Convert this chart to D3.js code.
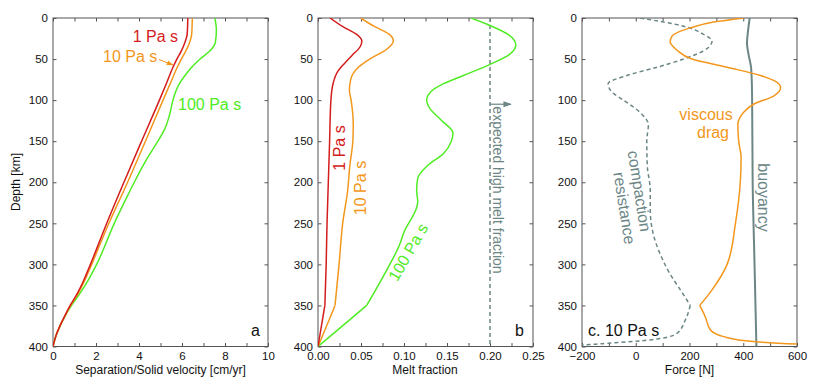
<!doctype html>
<html>
<head>
<meta charset="utf-8">
<script src="https://d3js.org/d3.v7.min.js"></script>
<style>
  body { margin: 0; background: #fff; }
  svg text { font-family: "Liberation Sans", Arial, Helvetica, sans-serif; }
</style>
</head>
<body>
<svg id="chart" width="830" height="391"></svg>
<script>
// ---------- data ----------
// depth ticks shared by all panels
var depthTicks = [0, 50, 100, 150, 200, 250, 300, 350, 400];

// panel a : separation / solid velocity [cm/yr]
var aDepth     = [0, 20, 30, 40, 50, 60, 80, 100, 150, 200, 250, 300, 320, 335, 350, 362, 374, 386, 400];
var aVel1      = [6.27, 6.24, 6.13, 5.97, 5.76, 5.58, 5.27, 4.95, 4.12, 3.30, 2.50, 1.74, 1.42, 1.14, 0.80, 0.56, 0.34, 0.15, 0];
var aVel10     = [6.48, 6.45, 6.35, 6.18, 5.97, 5.78, 5.45, 5.12, 4.30, 3.47, 2.60, 1.80, 1.47, 1.18, 0.82, 0.57, 0.34, 0.15, 0];
var aDepth100  = [0, 15, 30, 40, 50, 60, 70, 80, 90, 100, 120, 135, 150, 170, 200, 220, 250, 300, 320, 335, 350, 362, 374, 386, 400];
var aVel100    = [7.53, 7.60, 7.55, 7.30, 6.84, 6.45, 6.14, 5.88, 5.70, 5.58, 5.40, 5.20, 4.88, 4.40, 3.78, 3.40, 2.85, 2.03, 1.62, 1.26, 0.86, 0.58, 0.35, 0.15, 0];

// panel b : melt fraction
var bDepth1    = [0, 10, 20, 28, 35, 45, 55, 65, 80, 100, 150, 200, 250, 300, 350, 400];
var bMelt1     = [0.014, 0.028, 0.045, 0.051, 0.049, 0.040, 0.031, 0.023, 0.0175, 0.015, 0.0135, 0.012, 0.0105, 0.0095, 0.008, 0];
var bDepth10   = [0, 10, 20, 28, 38, 50, 60, 75, 88, 100, 130, 150, 180, 210, 250, 300, 350, 375, 400];
var bMelt10    = [0.0497, 0.065, 0.083, 0.0876, 0.080, 0.060, 0.047, 0.038, 0.0365, 0.0385, 0.041, 0.0405, 0.037, 0.0345, 0.0287, 0.0245, 0.0198, 0.010, 0];
var bDepth100  = [0, 10, 20, 33, 45, 57, 70, 80, 90, 100, 110, 125, 140, 150, 165, 180, 195, 210, 224, 262, 275, 307, 350, 371, 400];
var bMelt100   = [0.178, 0.202, 0.221, 0.230, 0.222, 0.199, 0.169, 0.146, 0.131, 0.1264, 0.130, 0.144, 0.157, 0.155, 0.146, 0.127, 0.116, 0.1147, 0.116, 0.0995, 0.0953, 0.0799, 0.0566, 0.033, 0];
var highMelt   = 0.20;

// panel c : forces for 10 Pa s [N]
var cDepthDrag = [0, 5, 12, 22, 29, 39, 50, 60, 70, 80, 85, 95, 105, 115, 130, 150, 170, 200, 250, 300, 331, 350, 364, 380, 388, 394, 397, 399];
var cDrag      = [402, 290, 203, 135, 128, 153, 209, 340, 464, 532, 539, 513, 438, 401, 380, 383, 392, 389, 371, 340, 284, 238, 259, 278, 327, 438, 601, 800];
var cDepthComp = [0, 10, 20, 28, 40, 50, 60, 70, 80, 90, 100, 115, 130, 150, 180, 210, 234, 271, 292, 312, 331, 350, 368, 384, 392, 396, 398, 399];
var cComp      = [16, 178, 253, 284, 252, 178, 79, -33, -103, -89, -46, 16, 47, 41, 43, 54, 54, 72, 97, 128, 166, 203, 184, 153, 54, -108, -200, -400];
var cDepthBuoy = [0, 15, 30, 45, 60, 80, 100, 200, 300, 400];
var cBuoy      = [424, 418, 414, 420, 429, 432, 433, 435, 442, 449];

// ---------- drawing ----------
var FONT = '"Liberation Sans", Arial, Helvetica, sans-serif';
var RED = "#d41c1c", ORANGE = "#f2971c", GREEN = "#4fec23", GRAY = "#6c8686";

var svg = d3.select("#chart");
var top0 = 18, bot0 = 346.5, pw = 215;
var y = d3.scaleLinear().domain([0, 400]).range([top0, bot0]);

var xa = d3.scaleLinear().domain([0, 10]).range([53, 53 + pw]);
var xb = d3.scaleLinear().domain([0, 0.25]).range([318, 318 + pw]);
var xc = d3.scaleLinear().domain([-200, 600]).range([582, 582 + pw]);

var defs = svg.append("defs");
function arrowMarker(id, color) {
  defs.append("marker").attr("id", id)
    .attr("viewBox", "0 0 10 10").attr("refX", 9).attr("refY", 5)
    .attr("markerWidth", 7).attr("markerHeight", 7).attr("orient", "auto")
    .append("path").attr("d", "M0,1.5 L10,5 L0,8.5 z").attr("fill", color);
}
arrowMarker("arrO", ORANGE);
arrowMarker("arrG", GRAY);

function axes(x, xTicks, xFmt, id) {
  var x0 = x.range()[0], x1 = x.range()[1];
  defs.append("clipPath").attr("id", id)
    .append("rect").attr("x", x0).attr("y", top0).attr("width", x1 - x0).attr("height", bot0 - top0);

  var gb = svg.append("g").attr("transform", "translate(0," + bot0 + ")")
    .call(d3.axisBottom(x).tickValues(xTicks).tickFormat(xFmt).tickSize(-3.5).tickPadding(5));
  var gt = svg.append("g").attr("transform", "translate(0," + top0 + ")")
    .call(d3.axisTop(x).tickValues(xTicks).tickFormat("").tickSize(-3.5));
  var gl = svg.append("g").attr("transform", "translate(" + x0 + ",0)")
    .call(d3.axisLeft(y).tickValues(depthTicks).tickSize(-3.5).tickPadding(5));
  var gr = svg.append("g").attr("transform", "translate(" + x1 + ",0)")
    .call(d3.axisRight(y).tickValues(depthTicks).tickFormat("").tickSize(-3.5));
  [gb, gt, gl, gr].forEach(function(g) {
    g.attr("font-family", FONT).attr("font-size", 11.5).attr("color", "#555");
    g.select(".domain").remove();
    g.selectAll("text").attr("fill", "#111");
  });
  svg.append("rect").attr("x", x0).attr("y", top0)
    .attr("width", x1 - x0).attr("height", bot0 - top0)
    .attr("fill", "none").attr("stroke", "#555").attr("stroke-width", 1);
}

// split a profile at kink depths so the corners stay sharp
function pieces(depths, vals, kinks) {
  var out = [[]];
  depths.forEach(function(d, i) {
    out[out.length - 1].push([d, vals[i]]);
    if (kinks && kinks.indexOf(d) >= 0) out.push([[d, vals[i]]]);
  });
  return out;
}

function profile(x, depths, vals, color, clip, opts) {
  opts = opts || {};
  var line = d3.line()
    .x(function(d) { return x(d[1]); })
    .y(function(d) { return y(d[0]); })
    .curve(d3.curveMonotoneY);
  pieces(depths, vals, opts.kinks).forEach(function(p) {
    svg.append("path").attr("d", line(p))
      .attr("clip-path", "url(#" + clip + ")")
      .attr("fill", "none").attr("stroke", color)
      .attr("stroke-width", opts.width || 1.5)
      .attr("stroke-dasharray", opts.dash || null)
      .attr("stroke-linejoin", "round");
  });
}

function label(txt, xp, yp, color, size, rot, anchor) {
  svg.append("text").text(txt)
    .attr("transform", "translate(" + xp + "," + yp + ")" + (rot ? " rotate(" + rot + ")" : ""))
    .attr("text-anchor", anchor || "start")
    .attr("font-size", size).attr("fill", color);
}

// panel a
axes(xa, d3.range(0, 11), function(d) { return d % 2 === 0 ? d : ""; }, "clipA");
profile(xa, aDepth100, aVel100, GREEN, "clipA");
profile(xa, aDepth, aVel10, ORANGE, "clipA");
profile(xa, aDepth, aVel1, RED, "clipA");
label("1 Pa s", 178, 42, RED, 16, 0, "end");
label("10 Pa s", 103, 62, ORANGE, 16);
svg.append("line").attr("x1", 159).attr("y1", 59.5).attr("x2", 173).attr("y2", 65)
  .attr("stroke", ORANGE).attr("stroke-width", 1).attr("marker-end", "url(#arrO)");
label("100 Pa s", 178, 110, GREEN, 16);
label("a", 260, 336, "#111", 16, 0, "end");
label("Separation/Solid velocity [cm/yr]", 160.5, 374, "#111", 12, 0, "middle");
label("Depth [km]", 20, 182, "#111", 12, -90, "middle");

// panel b
axes(xb, d3.range(0, 11).map(function(i) { return i * 0.025; }),
     function(d, i) { return i % 2 === 0 ? d3.format(".2f")(d) : ""; }, "clipB");
svg.append("line").attr("x1", xb(highMelt)).attr("x2", xb(highMelt))
  .attr("y1", y(0)).attr("y2", y(400))
  .attr("stroke", GRAY).attr("stroke-width", 1.5).attr("stroke-dasharray", "4,3");
svg.append("line").attr("x1", xb(highMelt)).attr("y1", y(105)).attr("x2", xb(highMelt) + 21).attr("y2", y(105))
  .attr("stroke", GRAY).attr("stroke-width", 1.2).attr("marker-end", "url(#arrG)");
label("expected high melt fraction", 493, 190, GRAY, 14, 90, "middle");
profile(xb, bDepth100, bMelt100, GREEN, "clipB", { kinks: [350] });
profile(xb, bDepth10, bMelt10, ORANGE, "clipB", { kinks: [350] });
profile(xb, bDepth1, bMelt1, RED, "clipB", { kinks: [350] });
label("1 Pa s", 345, 148, RED, 16, -90, "middle");
label("10 Pa s", 366, 188, ORANGE, 16, -90, "middle");
label("100 Pa s", 413, 255, GREEN, 16, -60, "middle");
label("b", 524, 336, "#111", 16, 0, "end");
label("Melt fraction", 425, 374, "#111", 12, 0, "middle");

// panel c
axes(xc, d3.range(-200, 601, 100), function(d) { return d % 200 === 0 ? d3.format("")(d) : ""; }, "clipC");
profile(xc, cDepthComp, cComp, GRAY, "clipC", { kinks: [350], dash: "4,3" });
profile(xc, cDepthBuoy, cBuoy, GRAY, "clipC", { width: 2 });
profile(xc, cDepthDrag, cDrag, ORANGE, "clipC", { kinks: [350] });
label("viscous", 706, 119.5, ORANGE, 16, 0, "middle");
label("drag", 713, 138, ORANGE, 16, 0, "middle");
label("buoyancy", 758, 197.5, GRAY, 16, 90, "middle");
label("compaction", 634, 192, GRAY, 16, 81, "middle");
label("resistance", 619, 209, GRAY, 16, 81, "middle");
label("c. 10 Pa s", 588, 336, "#111", 16);
label("Force [N]", 689.5, 374, "#111", 12, 0, "middle");
</script>
</body>
</html>
